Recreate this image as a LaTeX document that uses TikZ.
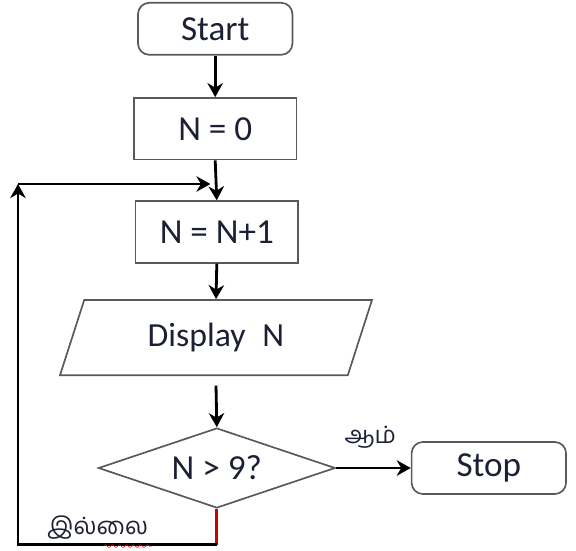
\documentclass[tikz,border=0pt]{standalone}
\usepackage{fontspec}
\setmainfont{Carlito}
\newfontfamily\tamil[Script=Tamil]{Hind Madurai}
\usepackage{tikz}
\usetikzlibrary{positioning,arrows.meta,shapes.geometric,calc,decorations.pathmorphing}
\definecolor{ink}{RGB}{28,32,52}

\begin{document}
\begin{tikzpicture}[
  every node/.style={text=ink},
  term/.style={draw=black!65, line width=0.6pt, rounded corners=4pt, minimum width=1.93cm,
               minimum height=0.65cm, font=\fontsize{12.5}{15}\selectfont},
  proc/.style={draw=black!65, line width=0.6pt, minimum width=2.03cm,
               minimum height=0.77cm, font=\fontsize{12.5}{15}\selectfont},
  io/.style={draw=black!65, line width=0.6pt, trapezium, trapezium left angle=50,
             trapezium right angle=130, trapezium stretches body,
             minimum width=3.9cm, minimum height=0.94cm, inner sep=0pt,
             font=\fontsize{12}{15}\selectfont},
  test/.style={draw=black!65, line width=0.6pt, diamond, aspect=2.96, minimum width=2.96cm,
               minimum height=1.0cm, inner sep=0pt, font=\fontsize{12.5}{15}\selectfont},
  lbl/.style={font=\tamil\fontsize{8.5}{10}\selectfont},
  arr/.style={-{Stealth[length=5pt,width=5.5pt]}, line width=1pt}
]
  \useasboundingbox (0,0) rectangle (7.2,-6.875);

  % main column
  \node[term] (start) at (2.69,-0.36) {Start};
  \node[proc] (zero) at (2.69,-1.61) {N = 0};
  \node[proc] (incr) at (2.71,-2.9) {N = N+1};
  \node[io] (disp) at (2.7,-4.22) {Display\enspace N};
  \node[test] (check) at (2.71,-5.85) {N > 9?};
  \node[term] (stop) at (6.11,-5.85) {Stop};

  \draw[arr] (start.south) -- (zero.north);
  \draw[arr] (zero.south) -- (incr.north);
  \draw[arr] (incr.south) -- (disp.north);
  \coordinate (dtop) at ($(disp.south)+(0,-0.12)$);
  \draw[arr] (dtop) -- (check.north);
  \draw[arr] (check.east) -- (stop.west);
  \node[lbl] (yes) at (4.63,-5.47) {ஆம்};

  % back to the increment
  \coordinate (corner) at (0.225,-6.81);
  \coordinate (down) at (check.south |- corner);
  \coordinate (up) at (0.225,-2.3);
  \coordinate (join) at (2.63,-2.3);
  \draw[red!80!black, line width=1pt] (check.south) -- (down);
  \draw[arr] (down) -- (corner) -- (up);
  \draw[arr] (up) -- (join);
  \node[lbl] (no) at (1.22,-6.59) {இல்லை};
  \draw[red, very thin, decorate, decoration={snake, amplitude=0.5pt, segment length=2.5pt}]
    ([xshift=2pt,yshift=1pt]no.south) -- ([xshift=-2pt,yshift=1pt]no.south east);
\end{tikzpicture}
\end{document}
